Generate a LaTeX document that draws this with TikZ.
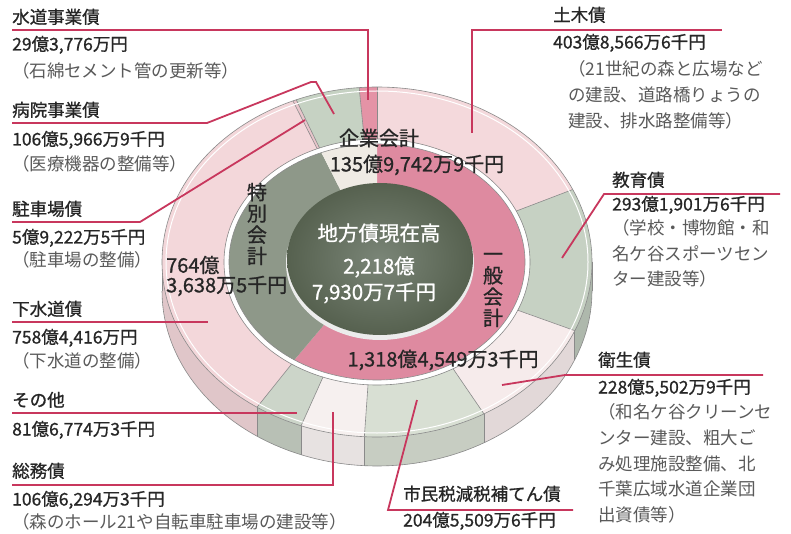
\documentclass[tikz,border=0pt]{standalone}
\usepackage{fontspec}
\setmainfont{Noto Sans CJK JP}
\newfontfamily\jpmed[FakeBold=0.9]{Noto Sans CJK JP}
\definecolor{leadc}{HTML}{C8375D}
\definecolor{txtc}{HTML}{262626}
\definecolor{dscc}{HTML}{5A5A5A}
\definecolor{edgec}{HTML}{8A8A8A}
\definecolor{cDoboku}{HTML}{F4D9DC}
\definecolor{cKyoiku}{HTML}{C6D1C3}
\definecolor{cEisei}{HTML}{F6EBEB}
\definecolor{cShimin}{HTML}{D8DFD3}
\definecolor{cSomu}{HTML}{F6F0EF}
\definecolor{cSonota}{HTML}{CCD5C9}
\definecolor{cGesui}{HTML}{F3D7DA}
\definecolor{cChusha}{HTML}{E9C5CB}
\definecolor{cByoin}{HTML}{C6D2C3}
\definecolor{cSuido}{HTML}{E493A6}
\definecolor{cGeneral}{HTML}{DE8AA0}
\definecolor{cSpecial}{HTML}{8E9889}
\definecolor{cEnter}{HTML}{EFEBE4}
\definecolor{cDarkIn}{HTML}{7A8577}
\definecolor{cDarkOut}{HTML}{56614F}
\def\cx{377}\def\cy{262}
\def\oRa{215}\def\oRb{175}
\def\iRa{153}\def\iRb{123}
\def\mRa{148}\def\mRb{118}
\def\hh{29}
\newcommand\topslice[3]{\fill[#1] plot[domain=#2:#3,samples=50] ({\cx+\oRa*sin(\x)},{\cy-\oRb*cos(\x)}) -- plot[domain=#3:#2,samples=50] ({\cx+\iRa*sin(\x)},{\cy-\iRb*cos(\x)}) -- cycle;}
\newcommand\sideslice[3]{\fill[#1] plot[domain=#2:#3,samples=50] ({\cx+\oRa*sin(\x)},{\cy-\oRb*cos(\x)}) -- plot[domain=#3:#2,samples=50] ({\cx+\oRa*sin(\x)},{\cy+\hh-\oRb*cos(\x)}) -- cycle;}
\newcommand\midslice[3]{\fill[#1] (\cx,\cy) -- plot[domain=#2:#3,samples=50] ({\cx+\mRa*sin(\x)},{\cy-\mRb*cos(\x)}) -- cycle;}
\newcommand\radline[1]{\draw[edgeln] ({\cx+\iRa*sin(#1)},{\cy-\iRb*cos(#1)}) -- ({\cx+\oRa*sin(#1)},{\cy-\oRb*cos(#1)});}
\newcommand\sidevline[1]{\draw[edgeln] ({\cx+\oRa*sin(#1)},{\cy-\oRb*cos(#1)}) -- ++(0,\hh);}
\begin{document}
\begin{tikzpicture}[x=1pt,y=-1pt,
  lbl/.style={anchor=west, inner sep=0pt, font=\jpmed\fontsize{17.5}{20}\selectfont, text=txtc, text height=0.85em, text depth=0.15em},
  dsc/.style={lbl, font=\fontsize{17.5}{20}\selectfont, text=dscc},
  ctr/.style={inner sep=0pt, font=\jpmed\fontsize{20}{21.3}\selectfont, text=txtc},
  wtxt/.style={inner sep=0pt, font=\jpmed\fontsize{20.5}{22}\selectfont, text=white},
  leader/.style={draw=leadc, line width=1.8pt, line join=miter},
  edgeln/.style={draw=edgec, line width=0.6pt}]
\useasboundingbox (0,0) rectangle (791,534);
\fill[white] (0,0) rectangle (791,534);
% ---- side walls (front half)
\sideslice{cKyoiku!88!black}{90}{113.10}
\sideslice{cEisei!92!black}{113.10}{150.18}
\sideslice{cShimin!92!black}{150.18}{183.37}
\sideslice{cSomu!94!black}{183.37}{200.67}
\sideslice{cSonota!90!black}{200.67}{213.92}
\sideslice{cGesui!92!black}{213.92}{270}
\foreach \a in {113.10,150.18,183.37,200.67,213.92} {\sidevline{\a}}
\draw[edgeln] plot[domain=90:270,samples=80] ({\cx+\oRa*sin(\x)},{\cy+\hh-\oRb*cos(\x)});
\sidevline{90}\sidevline{270}
% ---- outer ring top face
\topslice{cDoboku}{0}{65.53}
\topslice{cKyoiku}{65.53}{113.10}
\topslice{cEisei}{113.10}{150.18}
\topslice{cShimin}{150.18}{183.37}
\topslice{cSomu}{183.37}{200.67}
\topslice{cSonota}{200.67}{213.92}
\topslice{cGesui}{213.92}{336.98}
\topslice{cChusha}{336.98}{337.94}
\topslice{cByoin}{337.94}{355.24}
\topslice{cSuido}{355.24}{360}
\foreach \a in {0,65.53,113.10,150.18,183.37,200.67,213.92,336.98,337.94,355.24} {\radline{\a}}
\draw[white, line width=1pt] (\cx,\cy) ellipse [x radius=211, y radius=171];
\draw[edgeln] (\cx,\cy) ellipse [x radius=\oRa, y radius=\oRb];
\draw[edgeln] (\cx,\cy) ellipse [x radius=\iRa, y radius=\iRb];
% ---- middle ring
\midslice{cGeneral}{0}{213.92}
\midslice{cSpecial}{213.92}{337.94}
\midslice{cEnter}{337.94}{360}
\draw[edgeln] (\cx,\cy) ellipse [x radius=\mRa, y radius=\mRb];
% ---- centre disc
\fill[white!85!gray] (380,263) ellipse [x radius=94, y radius=77];
\shade[inner color=cDarkIn, outer color=cDarkOut] (380,259) ellipse [x radius=93, y radius=76];
% ---- centre texts
\node[wtxt] (c1) at (379,233) {地方債現在高};
\node[wtxt] (c2) at (379,267) {2,218億};
\node[wtxt] (c3) at (374,293) {7,930万7千円};
\node[ctr] (k1) at (379,138) {企業会計};
\node[ctr] (k2) at (417,165) {135億9,742万9千円};
\node[ctr, align=center] (s1) at (257,224) {特\\別\\会\\計};
\node[ctr, anchor=west] (s2) at (166,265) {764億};
\node[ctr, anchor=west] (s3) at (166,286) {3,638万5千円};
\node[ctr, align=center] (g1) at (493,290) {一\\般\\会\\計};
\node[ctr] (g2) at (443,360) {1,318億4,549万3千円};
% ---- left labels
\node[lbl] (t1) at (12,20) {水道事業債};
\node[lbl] (v1) at (12,47) {29億3,776万円};
\node[dsc] (d1) at (12,74) {（石綿セメント管の更新等）};
\node[lbl] (t2) at (12,113) {病院事業債};
\node[lbl] (v2) at (12,142) {106億5,966万9千円};
\node[dsc] (d2) at (12,167) {（医療機器の整備等）};
\node[lbl] (t3) at (12,212) {駐車場債};
\node[lbl] (v3) at (12,240) {5億9,222万5千円};
\node[dsc] (d3) at (12,263) {（駐車場の整備）};
\node[lbl] (t4) at (12,312) {下水道債};
\node[lbl] (v4) at (12,340) {758億4,416万円};
\node[dsc] (d4) at (12,364) {（下水道の整備）};
\node[lbl] (t5) at (12,403) {その他};
\node[lbl] (v5) at (12,432) {81億6,774万3千円};
\node[lbl] (t6) at (12,474) {総務債};
\node[lbl] (v6) at (12,502) {106億6,294万3千円};
\node[dsc] (d6) at (12,525) {（森のホール21や自転車駐車場の建設等）};
% ---- right labels
\node[lbl] (t7) at (553,18) {土木債};
\node[lbl] (v7) at (553,45) {403億8,566万6千円};
\node[dsc] (d7a) at (568,72) {（21世紀の森と広場など};
\node[dsc] (d7b) at (568,98) {の建設、道路橋りょうの};
\node[dsc] (d7c) at (568,124) {建設、排水路整備等）};
\node[lbl] (t8) at (612,183) {教育債};
\node[lbl] (v8) at (612,207) {293億1,901万6千円};
\node[dsc] (d8a) at (612,231) {（学校・博物館・和};
\node[dsc] (d8b) at (612,257) {名ケ谷スポーツセン};
\node[dsc] (d8c) at (612,282) {ター建設等）};
\node[lbl] (t9) at (598,363) {衛生債};
\node[lbl] (v9) at (598,390) {228億5,502万9千円};
\node[dsc] (d9a) at (598,415) {（和名ケ谷クリーンセ};
\node[dsc] (d9b) at (598,441) {ンター建設、粗大ご};
\node[dsc] (d9c) at (598,467) {み処理施設整備、北};
\node[dsc] (d9d) at (598,492) {千葉広域水道企業団};
\node[dsc] (d9e) at (598,518) {出資債等）};
\node[lbl] (t10) at (403,497) {市民税減税補てん債};
\node[lbl] (v10) at (403,523) {204億5,509万6千円};
% ---- leader lines
\coordinate (a1) at (12,30);  \coordinate (b1) at (368,30);  \coordinate (e1) at (368,100);
\draw[leader] (a1) -- (b1) -- (e1);
\coordinate (a2) at (12,123); \coordinate (b2) at (207,123); \coordinate (c2x) at (311,82); \coordinate (d2x) at (316,82); \coordinate (e2) at (334,114);
\draw[leader] (a2) -- (b2) -- (c2x) -- (d2x) -- (e2);
\coordinate (a3) at (12,222); \coordinate (b3) at (140,222); \coordinate (e3) at (305,120);
\draw[leader] (a3) -- (b3) -- (e3);
\coordinate (a4) at (12,322); \coordinate (e4) at (208,322);
\draw[leader] (a4) -- (e4);
\coordinate (a5) at (12,413); \coordinate (e5) at (297,413);
\draw[leader] (a5) -- (e5);
\coordinate (a6) at (12,485); \coordinate (b6) at (333,485); \coordinate (e6) at (333,412);
\draw[leader] (a6) -- (b6) -- (e6);
\coordinate (e7) at (472,133); \coordinate (b7) at (472,30); \coordinate (a7) at (722,30);
\draw[leader] (e7) -- (b7) -- (a7);
\coordinate (e8) at (562,258); \coordinate (b8) at (604,194); \coordinate (a8) at (780,194);
\draw[leader] (e8) -- (b8) -- (a8);
\coordinate (e9) at (502,385); \coordinate (b9) at (565,375); \coordinate (a9) at (763,375);
\draw[leader] (e9) -- (b9) -- (a9);
\coordinate (e10) at (417,400); \coordinate (b10) at (388,510); \coordinate (a10) at (573,510);
\draw[leader] (e10) -- (b10) -- (a10);
\end{tikzpicture}
\end{document}
